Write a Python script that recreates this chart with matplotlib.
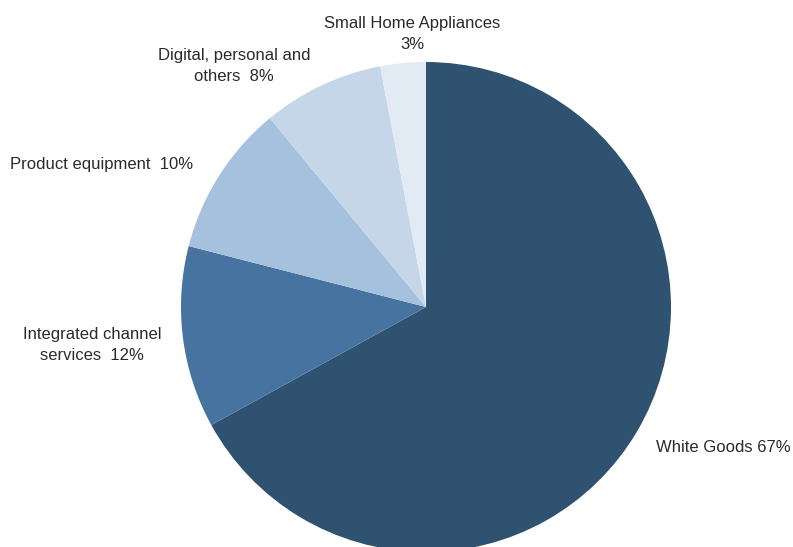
import matplotlib
matplotlib.use("Agg")
import matplotlib.pyplot as plt

# Revenue share by business segment
segments = ["White Goods", "Integrated channel services", "Product equipment",
            "Digital, personal and others", "Small Home Appliances"]
shares = [67, 12, 10, 8, 3]
label_texts = ["White Goods 67%", "Integrated channel\nservices  12%",
               "Product equipment  10%", "Digital, personal and\nothers  8%",
               "Small Home Appliances\n3%"]
colors = ["#2F5271", "#4673A0", "#A6C1DD", "#C5D6E8", "#E2EAF3"]

W, H = 793, 547

# label anchor positions (pixels from top-left) and alignment
label_pos = [(656, 447, "left"), (92, 345, "center"), (10, 165, "left"),
             (234, 66, "center"), (412, 34, "center")]

fig = plt.figure(figsize=(W / 100, H / 100), dpi=100)
ax = fig.add_axes([0, 0, 1, 1])

ax.pie(shares, colors=colors, startangle=90, counterclock=False,
       center=(426, H - 307), radius=245, frame=True,
       wedgeprops=dict(linewidth=0))
ax.set_xlim(0, W)
ax.set_ylim(0, H)
ax.set_aspect("equal")
ax.axis("off")

for txt, (x, y, ha) in zip(label_texts, label_pos):
    ax.text(x, H - y, txt, ha=ha, va="center", fontsize=12,
            family="Liberation Sans", color="#2a2a2a", linespacing=1.45)

fig.savefig("out.png", dpi=100)
